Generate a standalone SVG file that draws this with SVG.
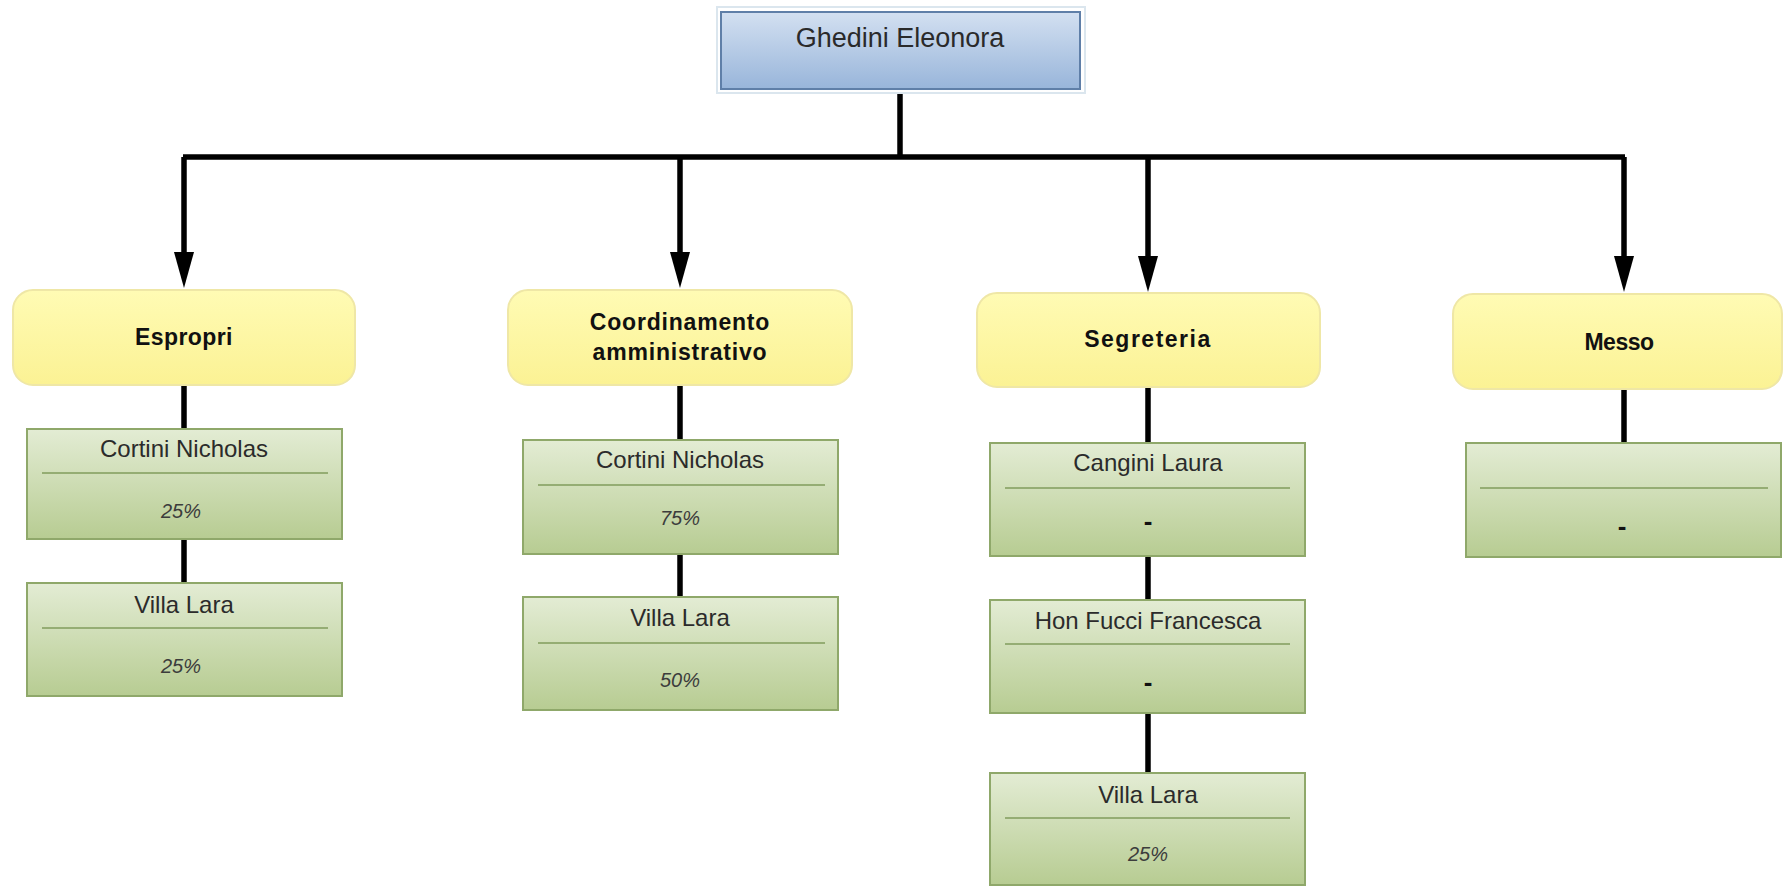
<svg xmlns="http://www.w3.org/2000/svg" width="1784" height="888" viewBox="0 0 1784 888">
<defs>
<linearGradient id="gBlue" x1="0" y1="0" x2="0" y2="1">
<stop offset="0" stop-color="#d3e0f1"/>
<stop offset="1" stop-color="#98b5da"/>
</linearGradient>
<linearGradient id="gYellow" x1="0" y1="0" x2="0" y2="1">
<stop offset="0" stop-color="#fffbb4"/>
<stop offset="1" stop-color="#fbf294"/>
</linearGradient>
<linearGradient id="gGreen" x1="0" y1="0" x2="0" y2="1">
<stop offset="0" stop-color="#e3ecd4"/>
<stop offset="1" stop-color="#b7cc92"/>
</linearGradient>
<marker id="arr" markerUnits="userSpaceOnUse" viewBox="0 0 36 20" refX="0" refY="10" markerWidth="36" markerHeight="20" orient="auto">
<path d="M0,0 L36,10 L0,20 z" fill="#000"/>
</marker>
<style>
.conn{stroke:#000;stroke-width:5.5;fill:none}
.yel{fill:url(#gYellow);stroke:#efe7a6;stroke-width:2}
.grn{fill:url(#gGreen);stroke:#8fa86a;stroke-width:2}
.sep{stroke:#819c5c;stroke-width:1.5}
.dept{font-family:"Liberation Sans",Arial,sans-serif;font-weight:bold;font-size:23px;fill:#111;text-anchor:middle}
.nm{font-family:"Liberation Sans",Arial,sans-serif;font-size:24px;fill:#2b2b2b;text-anchor:middle}
.pc{font-family:"Liberation Sans",Arial,sans-serif;font-size:20px;font-style:italic;fill:#3c3c3c;text-anchor:middle}
.dash{font-family:"Liberation Sans",Arial,sans-serif;font-size:26px;font-weight:bold;fill:#111;text-anchor:middle}
</style>
</defs>
<rect width="1784" height="888" fill="#fff"/>

<g id="connectors">
<path class="conn" d="M900,93 V157"/>
<path class="conn" d="M183,157 H1625"/>
<path class="conn" d="M184,157 V252" marker-end="url(#arr)"/>
<path class="conn" d="M680,157 V252" marker-end="url(#arr)"/>
<path class="conn" d="M1148,157 V256" marker-end="url(#arr)"/>
<path class="conn" d="M1624,157 V256" marker-end="url(#arr)"/>
<path class="conn" d="M184,385 V429 M184,539 V583"/>
<path class="conn" d="M680,385 V440 M680,554 V597"/>
<path class="conn" d="M1148,387 V443 M1148,556 V600 M1148,713 V773"/>
<path class="conn" d="M1624,389 V443"/>
</g>

<g id="root">
<rect x="717" y="7" width="368" height="86" fill="#fff" stroke="#dbe6ee" stroke-width="2"/>
<rect x="721" y="12" width="359" height="77" fill="url(#gBlue)" stroke="#5f7fa8" stroke-width="2"/>
<text x="900" y="47" font-family="Liberation Sans, Arial, sans-serif" font-size="27" fill="#2a2a2a" text-anchor="middle">Ghedini Eleonora</text>
</g>

<g id="espropri">
<rect class="yel" x="13" y="290" width="342" height="95" rx="20"/>
<text class="dept" x="184" y="345" letter-spacing="0.4">Espropri</text>
</g>
<g id="espropri-cortini">
<rect class="grn" x="27" y="429" width="315" height="110"/>
<line class="sep" x1="42" y1="473" x2="328" y2="473"/>
<text class="nm" x="184" y="457">Cortini Nicholas</text>
<text class="pc" x="181" y="518">25%</text>
</g>
<g id="espropri-villa">
<rect class="grn" x="27" y="583" width="315" height="113"/>
<line class="sep" x1="42" y1="628" x2="328" y2="628"/>
<text class="nm" x="184" y="613">Villa Lara</text>
<text class="pc" x="181" y="673">25%</text>
</g>

<g id="coordinamento">
<rect class="yel" x="508" y="290" width="344" height="95" rx="20"/>
<text class="dept" x="680" y="330" letter-spacing="0.8">Coordinamento</text>
<text class="dept" x="680" y="360" letter-spacing="0.8">amministrativo</text>
</g>
<g id="coord-cortini">
<rect class="grn" x="523" y="440" width="315" height="114"/>
<line class="sep" x1="538" y1="485" x2="825" y2="485"/>
<text class="nm" x="680" y="468">Cortini Nicholas</text>
<text class="pc" x="680" y="525">75%</text>
</g>
<g id="coord-villa">
<rect class="grn" x="523" y="597" width="315" height="113"/>
<line class="sep" x1="538" y1="643" x2="825" y2="643"/>
<text class="nm" x="680" y="626">Villa Lara</text>
<text class="pc" x="680" y="687">50%</text>
</g>

<g id="segreteria">
<rect class="yel" x="977" y="293" width="343" height="94" rx="20"/>
<text class="dept" x="1148" y="347" letter-spacing="1.5">Segreteria</text>
</g>
<g id="segr-cangini">
<rect class="grn" x="990" y="443" width="315" height="113"/>
<line class="sep" x1="1005" y1="488" x2="1290" y2="488"/>
<text class="nm" x="1148" y="471">Cangini Laura</text>
<text class="dash" x="1148" y="530">-</text>
</g>
<g id="segr-fucci">
<rect class="grn" x="990" y="600" width="315" height="113"/>
<line class="sep" x1="1005" y1="644" x2="1290" y2="644"/>
<text class="nm" x="1148" y="629">Hon Fucci Francesca</text>
<text class="dash" x="1148" y="691">-</text>
</g>
<g id="segr-villa">
<rect class="grn" x="990" y="773" width="315" height="112"/>
<line class="sep" x1="1005" y1="818" x2="1290" y2="818"/>
<text class="nm" x="1148" y="803">Villa Lara</text>
<text class="pc" x="1148" y="861">25%</text>
</g>

<g id="messo">
<rect class="yel" x="1453" y="294" width="329" height="95" rx="20"/>
<text class="dept" x="1619" y="350" letter-spacing="-0.5">Messo</text>
</g>
<g id="messo-empty">
<rect class="grn" x="1466" y="443" width="315" height="114"/>
<line class="sep" x1="1480" y1="488" x2="1768" y2="488"/>
<text class="dash" x="1622" y="535">-</text>
</g>
</svg>
